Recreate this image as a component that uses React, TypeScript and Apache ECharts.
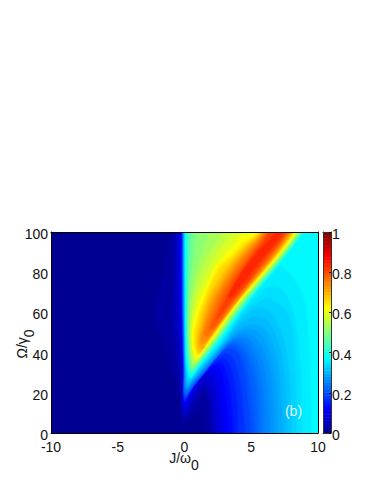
import React, { useEffect, useRef } from "react";
import * as echarts from "echarts";

type P = [number, number];

const xTicks = [-10, -5, 0, 5, 10];
const yTicks = [0, 20, 40, 60, 80, 100];
const barTicks = [0, 0.2, 0.4, 0.6, 0.8, 1];

// Filled contour levels of the field as [J, Omega] outlines.
const c000: P[] = [[-14, 108], [-14, -8], [14, -8], [14, 108]];
const c010: P[] = [[-1.2, 100], [-1.4, 85], [-2.3, 60], [-1.6, 45], [-0.5, 22], [-0.1, 6], [0.5, 7], [1, 10], [1.35, 11], [1.45, 6], [1.5, 0]];
const c030: P[] = [[-0.8, 100], [-0.85, 70], [-0.9, 55], [-0.45, 30], [-0.05, 6], [0.4, 10], [1, 17], [1.5, 21], [1.8, 16], [1.9, 8], [1.95, 0]];
const c060: P[] = [[-0.55, 100], [-0.55, 66], [-0.45, 50], [-0.2, 30], [-0.02, 9], [0.5, 15], [1, 21], [1.5, 25], [1.9, 22], [2.15, 12], [2.25, 0]];
const c090: P[] = [[-0.35, 100], [-0.3, 66], [-0.25, 50], [-0.1, 30], [-0.01, 12], [0.5, 19], [1, 25], [1.6, 29], [2.25, 27], [2.5, 14], [2.65, 0]];
const c108: P[] = [[-0.27, 100], [-0.25, 66], [-0.2, 50], [-0.07, 30], [0, 13.5], [0.5, 20], [1.1, 26.2], [1.7, 30.2], [2.38, 30], [2.7, 19.5], [2.9, 6], [2.97, 0]];
const c125: P[] = [[-0.2, 100], [-0.2, 66], [-0.15, 50], [-0.05, 30], [0, 15], [0.5, 21], [1.2, 27.5], [1.8, 31.5], [2.5, 33], [2.9, 25], [3.15, 12], [3.3, 0]];
const c143: P[] = [[-0.17, 100], [-0.17, 66], [-0.12, 50], [-0.03, 30], [0.01, 16], [0.5, 22], [1.25, 28.2], [1.9, 32.8], [2.7, 35], [3.2, 28.5], [3.52, 15], [3.65, 0]];
const c160: P[] = [[-0.15, 100], [-0.15, 66], [-0.1, 50], [-0.02, 30], [0.02, 17], [0.5, 22.5], [1.3, 29], [2, 34], [2.9, 37], [3.5, 32], [3.9, 18], [4, 0]];
const c180: P[] = [[-0.12, 100], [-0.12, 66], [-0.07, 50], [-0.01, 30], [0.03, 17.5], [0.6, 23], [1.6, 31], [2.2, 36], [3.05, 39.5], [3.7, 36.5], [4.15, 25.5], [4.35, 16], [4.5, 0]];
const c200: P[] = [[-0.1, 100], [-0.1, 66], [-0.05, 50], [0, 30], [0.05, 18.5], [0.7, 24], [1.55, 31], [2.4, 38], [3.2, 42], [3.9, 41], [4.4, 33], [4.8, 15], [5, 0]];
const c213: P[] = [[-0.08, 100], [-0.08, 66], [-0.03, 50], [0.02, 30], [0.08, 19.5], [0.75, 25], [1.5, 31], [2.5, 39], [3.25, 43], [3.95, 42.5], [4.5, 36], [5, 21.5], [5.2, 6], [5.25, 0]];
const c225: P[] = [[-0.07, 100], [-0.06, 66], [-0.02, 50], [0.03, 30], [0.1, 20], [0.8, 25.7], [1.5, 31], [2.6, 40], [3.3, 44], [4, 44], [4.6, 39], [5.2, 28], [5.45, 12], [5.5, 0]];
const c238: P[] = [[-0.06, 100], [-0.05, 66], [-0.01, 50], [0.04, 30], [0.11, 20.5], [0.75, 26], [1.45, 31], [2.35, 37.7], [3.3, 44.5], [4, 45.5], [4.65, 42], [5.3, 32.5], [5.65, 18.5], [5.75, 0]];
const c250: P[] = [[-0.05, 100], [-0.03, 66], [0, 50], [0.06, 30], [0.12, 21.5], [0.7, 26], [1.4, 31], [2.1, 36], [3.3, 45], [4, 47], [4.7, 45], [5.4, 37], [5.85, 25], [6, 10], [6, 0]];
const c263: P[] = [[-0.03, 100], [-0.02, 66], [0.01, 50], [0.08, 30.5], [0.15, 22.3], [0.65, 26], [1.33, 31], [2.02, 36], [3.22, 45], [4, 48], [4.8, 47], [5.55, 40.5], [6.12, 28.5], [6.32, 12], [6.35, 0]];
const c275: P[] = [[-0.02, 100], [0, 66], [0.02, 50], [0.09, 31], [0.18, 23], [0.6, 26], [1.25, 31], [1.95, 36], [3.15, 45], [4, 49], [4.9, 49], [5.7, 44], [6.4, 32], [6.65, 15], [6.7, 0]];
const c288: P[] = [[-0.01, 100], [0.01, 66], [0.03, 50], [0.1, 31.5], [0.2, 23.7], [0.55, 26], [1.2, 31], [1.87, 36], [3.07, 45], [4.05, 50.5], [5.05, 51.5], [5.95, 47], [6.65, 35], [6.95, 17.5], [7.05, 0]];
const c300: P[] = [[0, 100], [0.02, 66], [0.05, 50], [0.12, 32], [0.22, 24.3], [0.5, 26], [1.12, 31], [1.8, 36], [3, 45], [4.1, 52], [5.2, 54], [6.2, 50], [6.9, 38], [7.25, 20], [7.4, 0]];
const c313: P[] = [[0.02, 100], [0.03, 66], [0.06, 50], [0.13, 32.5], [0.26, 25], [0.48, 26.3], [1.05, 31], [1.72, 36], [2.92, 45], [4.2, 54.5], [5.35, 58], [6.35, 55], [7.2, 41.5], [7.57, 22.5], [7.7, 0]];
const c325: P[] = [[0.04, 100], [0.05, 66], [0.08, 50], [0.15, 33], [0.3, 25.8], [0.5, 27], [1, 31], [1.65, 36], [2.85, 45], [4.3, 57], [5.5, 62], [6.5, 60], [7.5, 45], [7.9, 25], [8, 0]];
const c338: P[] = [[0.05, 100], [0.06, 66], [0.09, 50], [0.16, 33.5], [0.34, 26.5], [0.55, 28], [1, 32], [1.58, 36], [2.78, 45], [4.42, 59.5], [5.5, 65], [6.5, 66.5], [7.9, 57], [8.3, 27.5], [8.4, 0]];
const c350: P[] = [[0.07, 100], [0.08, 66], [0.1, 50], [0.18, 34], [0.38, 27.3], [0.6, 29], [0.98, 32], [1.5, 36], [2.7, 45], [4.55, 62], [5.5, 68], [6.5, 73], [7.5, 70], [8.3, 56], [8.7, 30], [8.8, 0]];
const c365: P[] = [[0.09, 100], [0.1, 66], [0.12, 50], [0.2, 35], [0.42, 28], [0.8, 30.5], [1.38, 35.5], [2.55, 45], [4.75, 65], [6.5, 80], [7.3, 83], [8.8, 70], [9.3, 50], [9.5, 0]];
const c375: P[] = [[0.1, 100], [0.11, 66], [0.14, 50], [0.22, 35], [0.45, 28], [0.75, 30.5], [1.3, 35.5], [2.5, 45], [4.72, 65], [8.9, 100]];
const c400: P[] = [[0.15, 100], [0.16, 66], [0.18, 50], [0.26, 36], [0.48, 29.5], [0.75, 31], [1.22, 35], [2.42, 45], [4.65, 65], [8.85, 100]];
const c425: P[] = [[0.22, 100], [0.2, 66], [0.21, 50], [0.29, 37], [0.5, 30.2], [0.73, 31.5], [1.15, 35], [2.35, 45], [4.57, 65], [8.78, 100]];
const c450: P[] = [[0.33, 100], [0.25, 66], [0.25, 50], [0.32, 38], [0.52, 31], [0.72, 32], [1.08, 35], [2.28, 45], [4.5, 65], [8.7, 100]];
const c475: P[] = [[0.55, 100], [0.38, 80], [0.29, 66], [0.28, 50], [0.36, 38.5], [0.55, 32], [0.73, 32.7], [1.02, 35], [2.22, 45], [4.42, 65], [8.65, 100]];
const c500: P[] = [[0.9, 100], [0.5, 80], [0.33, 66], [0.32, 50], [0.4, 39], [0.58, 33], [0.75, 33.5], [0.95, 35], [2.15, 45], [4.35, 65], [8.6, 100]];
const c525: P[] = [[1.8, 100], [0.95, 82], [0.5, 68], [0.38, 52], [0.45, 40.5], [0.63, 34], [0.8, 34.3], [1, 36], [2.08, 45], [4.28, 65], [8.52, 100]];
const c550: P[] = [[2.8, 100], [1.5, 85], [0.7, 70], [0.45, 55], [0.5, 42], [0.68, 35], [0.85, 35.2], [1.04, 37], [2, 45], [4.2, 65], [8.45, 100]];
const c575: P[] = [[3.5, 100], [2.1, 86.5], [1, 70], [0.55, 55.5], [0.56, 43.5], [0.74, 36], [0.92, 36.2], [1.16, 38.5], [1.94, 45], [4.12, 65], [8.4, 100]];
const c600: P[] = [[4.3, 100], [2.8, 88], [1.3, 70], [0.65, 56], [0.62, 45], [0.8, 37], [1, 37.2], [1.28, 40], [1.88, 45], [4.05, 65], [8.35, 100]];
const c625: P[] = [[5.3, 100], [4.3, 95.5], [3.6, 90], [2.5, 83.6], [1.3, 66], [0.6, 50], [0.62, 43], [0.88, 38], [1.05, 38.3], [1.2, 40], [1.8, 45], [4, 65], [8.3, 100]];
const c650: P[] = [[5.5, 100], [4.5, 94], [3.6, 88], [2.5, 80.5], [1.5, 66], [0.85, 52], [0.8, 44], [1, 39], [1.15, 39.8], [1.75, 45], [3.95, 65], [8.22, 100]];
const c675: P[] = [[5.65, 100], [4.6, 93.3], [3.6, 86], [2.6, 77], [1.7, 66], [1, 50], [0.9, 44], [1.08, 40], [1.22, 40.6], [1.68, 45], [3.9, 65], [8.13, 100]];
const c700: P[] = [[5.8, 100], [4.7, 92.5], [3.6, 84], [2.5, 73], [1.9, 66], [1.15, 50], [1.05, 45], [1.2, 42], [1.4, 42.2], [1.6, 45], [3.85, 65], [8.05, 100]];
const c725: P[] = [[5.9, 100], [4.7, 91], [3.6, 81.7], [2.15, 66], [1.35, 51], [1.2, 46.5], [1.35, 44.5], [1.55, 45.2], [1.75, 46.5], [3.8, 65], [7.95, 100]];
const c750: P[] = [[6, 100], [4.8, 90], [3.6, 79.5], [2.4, 66], [1.6, 53], [1.45, 49.5], [1.6, 47.8], [1.85, 48.3], [2.05, 50], [3.75, 65], [7.85, 100]];
const c775: P[] = [[6.15, 100], [4.8, 88], [3.6, 76.8], [2.7, 66], [2, 55], [1.85, 52], [2.05, 51.5], [2.4, 53.5], [3.6, 65], [7.72, 100]];
const c800: P[] = [[6.3, 100], [4.8, 86], [3.6, 74], [3, 66], [2.5, 59], [2.35, 56.5], [2.6, 57.5], [3.45, 65], [4.76, 75], [6, 86], [7.6, 100]];
const c830: P[] = [[6.8, 100], [5.6, 91], [4.4, 81], [3.6, 72], [3.3, 67.5], [3.5, 67.5], [4.2, 73], [5.3, 82.5], [6.6, 93], [7.3, 100]];

const levels = [0, 0.01, 0.03, 0.06, 0.09, 0.108, 0.125, 0.143, 0.16, 0.18, 0.2, 0.213, 0.225, 0.238, 0.25, 0.263, 0.275, 0.288, 0.3, 0.313, 0.325, 0.338, 0.35, 0.365, 0.375, 0.4, 0.425, 0.45, 0.475, 0.5, 0.525, 0.55, 0.575, 0.6, 0.625, 0.65, 0.675, 0.7, 0.725, 0.75, 0.775, 0.8, 0.83];
const contours: P[][] = [c000, c010, c030, c060, c090, c108, c125, c143, c160, c180, c200, c213, c225, c238, c250, c263, c275, c288, c300, c313, c325, c338, c350, c365, c375, c400, c425, c450, c475, c500, c525, c550, c575, c600, c625, c650, c675, c700, c725, c750, c775, c800, c830];

// The colour bar's own steps
const barSteps = Array.from({ length: 64 }, (_, i) => i / 64);

const jetStops: [number, number, number, number][] = [
  [0, 0, 0, 143],
  [0.125, 0, 0, 255],
  [0.375, 0, 255, 255],
  [0.625, 255, 255, 0],
  [0.875, 255, 0, 0],
  [1, 128, 0, 0],
];

function jet(v: number): string {
  for (let i = 1; i < jetStops.length; i++) {
    const a = jetStops[i - 1];
    const b = jetStops[i];
    if (v <= b[0]) {
      const t = (v - a[0]) / (b[0] - a[0]);
      const m = (k: number) => Math.round(a[k] + (b[k] - a[k]) * t);
      return `rgb(${m(1)},${m(2)},${m(3)})`;
    }
  }
  return "rgb(128,0,0)";
}

// Carry an outline past the frame so that the frame clips it cleanly.
function closed(pts: P[]): P[] {
  const first = pts[0];
  const last = pts[pts.length - 1];
  if (first[1] !== 100) return pts;
  if (last[1] === 100) return [[first[0], 108], ...pts, [last[0], 108]];
  return [[first[0], 108], ...pts, [last[0], -8], [14, -8], [14, 108]];
}

const FONT = "'Liberation Sans', Arial, sans-serif";
const INK = "#111";
const rich = {
  m: { fontSize: 14, fontFamily: FONT, fill: INK },
  s: { fontSize: 14, fontFamily: FONT, fill: INK, padding: [14, 0, 0, 0] },
};

export default function App() {
  const ref = useRef<HTMLDivElement>(null);
  useEffect(() => {
    document.body.style.margin = "0";
    const chart = echarts.init(ref.current!, null, { renderer: "svg" });
    const line = { show: true, onZero: false, lineStyle: { color: "#000", width: 1 } };
    const barLine = { show: true, onZero: false, lineStyle: { color: "#333", width: 1 } };
    const off = { axisTick: { show: false }, axisLabel: { show: false }, splitLine: { show: false } };
    const sideLabel = { color: INK, fontSize: 14, fontFamily: FONT, verticalAlign: "top", lineHeight: 4, showMinLabel: true, showMaxLabel: true };
    chart.setOption({
      animation: false,
      backgroundColor: "#fff",
      textStyle: { fontFamily: FONT },
      grid: [
        { left: 51, top: 232, width: 267, height: 201, outerBoundsMode: "none" },
        { left: 323, top: 232, width: 8, height: 201, outerBoundsMode: "none" },
      ],
      xAxis: [
        {
          gridIndex: 0, type: "value", min: xTicks[0], max: xTicks[4], interval: 5, z: 5, position: "bottom",
          axisLine: line, axisTick: { show: false }, splitLine: { show: false },
          axisLabel: { color: INK, fontSize: 14, fontFamily: FONT, margin: 7, showMinLabel: true, showMaxLabel: true },
        },
        { gridIndex: 0, type: "value", min: -10, max: 10, z: 5, position: "top", axisLine: line, ...off },
        { gridIndex: 1, type: "value", min: 0, max: 1, z: 5, position: "bottom", axisLine: barLine, ...off },
        { gridIndex: 1, type: "value", min: 0, max: 1, z: 5, position: "top", axisLine: barLine, ...off },
      ],
      yAxis: [
        {
          gridIndex: 0, type: "value", min: yTicks[0], max: yTicks[5], interval: 20, z: 5, position: "left",
          axisLine: line, axisTick: { show: false }, splitLine: { show: false },
          axisLabel: { ...sideLabel, margin: 3 },
        },
        { gridIndex: 0, type: "value", min: 0, max: 100, z: 5, position: "right", axisLine: line, ...off },
        { gridIndex: 1, type: "value", min: 0, max: 1, z: 5, position: "left", axisLine: barLine, ...off },
        {
          gridIndex: 1, type: "value", min: barTicks[0], max: barTicks[5], interval: 0.2, z: 5, position: "right",
          axisLine: barLine,
          axisTick: { show: true, inside: true, length: 2, lineStyle: { color: "#000" } }, splitLine: { show: false },
          axisLabel: { ...sideLabel, margin: 1, formatter: (v: number) => String(v) },
        },
      ],
      series: [
        {
          type: "custom",
          name: "field",
          xAxisIndex: 0,
          yAxisIndex: 0,
          clip: true,
          silent: true,
          data: levels.map((l, i) => [contours[i][0][0], contours[i][0][1], l]),
          encode: { x: 0, y: 1 },
          renderItem: (params: any, api: any) => {
            const i = params.dataIndex;
            const upper = i + 1 < levels.length ? levels[i + 1] : levels[i] + 0.02;
            const points = closed(contours[i]).map((p) => api.coord(p));
            return {
              type: "polygon",
              shape: { points, smooth: i === 0 ? 0 : 0.35 },
              style: { fill: jet((levels[i] + upper) / 2), stroke: jet(levels[i]), lineWidth: 1.5 },
            };
          },
        },
        {
          type: "custom",
          name: "colorbar",
          xAxisIndex: 2,
          yAxisIndex: 3,
          silent: true,
          data: barSteps.map((s) => [0, s]),
          encode: { x: 0, y: 1 },
          renderItem: (params: any, api: any) => {
            const s = barSteps[params.dataIndex];
            const a = api.coord([0, s]);
            const b = api.coord([1, s + 1 / 64]);
            return {
              type: "rect",
              shape: { x: a[0], y: b[1], width: b[0] - a[0], height: a[1] - b[1] + 0.5 },
              style: { fill: jet(s + 1 / 128), stroke: "none" },
            };
          },
        },
      ],
      graphic: [
        {
          type: "text",
          x: 293.5,
          y: 411,
          z: 10,
          style: { text: "(b)", fill: "rgba(255,255,255,0.9)", font: `14px ${FONT}`, align: "center", verticalAlign: "middle" },
        },
        {
          type: "text",
          x: 184,
          y: 458,
          z: 10,
          style: { text: "{m|J/ω}{s|0}", rich, align: "center", verticalAlign: "middle" },
        },
        {
          type: "text",
          x: 22,
          y: 344,
          rotation: Math.PI / 2,
          z: 10,
          style: { text: "{m|Ω/γ}{s|0}", rich, align: "center", verticalAlign: "middle" },
        },
      ],
    });
    return () => chart.dispose();
  }, []);
  return <div ref={ref} style={{ width: 374, height: 484 }} />;
}
